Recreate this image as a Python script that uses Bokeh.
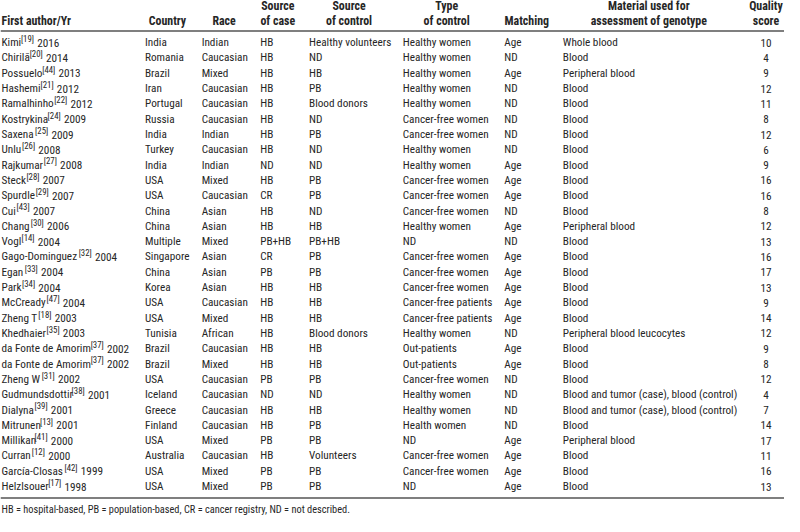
from bokeh.plotting import figure
from bokeh.models import ColumnDataSource, Range1d
from bokeh.core.properties import value
from bokeh.embed import file_html
from bokeh.resources import INLINE

# ---------------- data ----------------
authors = ["Kimi", "Chirilă", "Possuelo", "Hashemi", "Ramalhinho", "Kostrykina", "Saxena",
           "Unlu", "Rajkumar", "Steck", "Spurdle", "Cui", "Chang", "Vogl", "Gago-Dominguez",
           "Egan", "Park", "McCready", "Zheng T", "Khedhaier", "da Fonte de Amorim",
           "da Fonte de Amorim", "Zheng W", "Gudmundsdottir", "Dialyna", "Mitrunen",
           "Millikan", "Curran", "García-Closas", "Helzlsouer"]
refs = [19, 20, 44, 21, 22, 24, 25, 26, 27, 28, 29, 43, 30, 14, 32, 33, 34, 47, 18, 35,
        37, 37, 31, 38, 39, 13, 41, 12, 42, 17]
years = [2016, 2014, 2013, 2012, 2012, 2009, 2009, 2008, 2008, 2007, 2007, 2007, 2006,
         2004, 2004, 2004, 2004, 2004, 2003, 2003, 2002, 2002, 2002, 2001, 2001, 2001,
         2000, 2000, 1999, 1998]
countries = ["India", "Romania", "Brazil", "Iran", "Portugal", "Russia", "India", "Turkey",
             "India", "USA", "USA", "China", "China", "Multiple", "Singapore", "China",
             "Korea", "USA", "USA", "Tunisia", "Brazil", "Brazil", "USA", "Iceland",
             "Greece", "Finland", "USA", "Australia", "USA", "USA"]
races = ["Indian", "Caucasian", "Mixed", "Caucasian", "Caucasian", "Caucasian", "Indian",
         "Caucasian", "Indian", "Mixed", "Caucasian", "Asian", "Asian", "Mixed", "Asian",
         "Asian", "Asian", "Caucasian", "Mixed", "African", "Caucasian", "Mixed",
         "Caucasian", "Caucasian", "Caucasian", "Caucasian", "Mixed", "Caucasian",
         "Mixed", "Mixed"]
case_sources = ["HB", "HB", "HB", "HB", "HB", "HB", "HB", "HB", "ND", "HB", "CR", "HB",
                "HB", "PB+HB", "CR", "PB", "HB", "HB", "HB", "HB", "HB", "HB", "PB", "ND",
                "HB", "HB", "PB", "HB", "PB", "PB"]
control_sources = ["Healthy volunteers", "ND", "HB", "PB", "Blood donors", "ND", "PB", "ND",
                   "ND", "PB", "PB", "ND", "HB", "PB+HB", "PB", "PB", "HB", "HB", "HB",
                   "Blood donors", "HB", "HB", "PB", "ND", "HB", "PB", "PB", "Volunteers",
                   "PB", "PB"]
control_types = ["Healthy women", "Healthy women", "Healthy women", "Healthy women",
                 "Healthy women", "Cancer-free women", "Cancer-free women", "Healthy women",
                 "Healthy women", "Cancer-free women", "Cancer-free women",
                 "Cancer-free women", "Healthy women", "ND", "Cancer-free women",
                 "Cancer-free women", "Cancer-free women", "Cancer-free patients",
                 "Cancer-free patients", "Healthy women", "Out-patients", "Out-patients",
                 "Cancer-free women", "Healthy women", "Healthy women", "Health women",
                 "ND", "Cancer-free women", "Cancer-free women", "ND"]
matching = ["Age", "ND", "Age", "ND", "ND", "ND", "ND", "ND", "Age", "Age", "Age", "ND",
            "Age", "ND", "Age", "Age", "Age", "Age", "Age", "ND", "Age", "Age", "ND", "ND",
            "ND", "ND", "Age", "Age", "Age", "Age"]
materials = ["Whole blood", "Blood", "Peripheral blood", "Blood", "Blood", "Blood", "Blood",
             "Blood", "Blood", "Blood", "Blood", "Blood", "Peripheral blood", "Blood",
             "Blood", "Blood", "Blood", "Blood", "Blood", "Peripheral blood leucocytes",
             "Blood", "Blood", "Blood", "Blood and tumor (case), blood (control)",
             "Blood and tumor (case), blood (control)", "Blood", "Peripheral blood",
             "Blood", "Blood", "Blood"]
quality = [10, 4, 9, 12, 11, 8, 12, 6, 9, 16, 16, 8, 12, 13, 16, 17, 13, 9, 14, 12, 9, 8,
           12, 4, 7, 14, 17, 11, 16, 13]

header_top = ["Source", "Source", "Type", "Material used for", "Quality"]
header_bottom = ["First author/Yr", "Country", "Race", "of case", "of control",
                 "of control", "Matching", "assessment of genotype", "score"]
footnote = "HB = hospital-based, PB = population-based, CR = cancer registry, ND = not described."

# ---------------- layout (reference pixel space) ----------------
W, H = 784, 516
XR, YR = 803, 532
k = W / XR
FONT = "Roboto Condensed"
COLOR = "#262626"
BODY = 11.5
SUP = 9.0
HEAD = 12.2
FOOT = 10.6
FONT_RATIO = 0.873   # width of this font relative to Helvetica metrics

ROW0, DY = 43.5, 15.78
col_left = [148, 206, 266, 316, 412, 516, 576]
qual_center = 784
head_bottom_x = [1, 171, 229, 284, 357, 457, 539, 664, 784]
head_top_x = [284, 357, 457, 664, 784]
HEAD_Y_TOP, HEAD_Y_BOT = 5.5, 21.0
LINE_TOP, LINE_BOT = 31.5, 513
FOOT_Y = 525

HELV = {' ': 278, '-': 333, '.': 278, ',': 278, '[': 278, ']': 278, '(': 333, ')': 333,
        'ă': 556, 'í': 278}
HELV.update(dict(zip("ABCDEFGHIJKLMNOPQRSTUVWXYZ",
                     [667, 667, 722, 722, 667, 611, 778, 722, 278, 500, 667, 556, 833, 722,
                      778, 667, 778, 722, 667, 611, 722, 667, 944, 667, 667, 611])))
HELV.update(dict(zip("abcdefghijklmnopqrstuvwxyz",
                     [556, 556, 500, 556, 556, 278, 556, 556, 222, 222, 500, 222, 833, 556,
                      556, 556, 556, 333, 500, 278, 556, 500, 722, 500, 500, 500])))
for d in "0123456789":
    HELV[d] = 556


def tw(s, size):
    return sum(HELV.get(c, 556) for c in s) * FONT_RATIO * size / 1000.0


def px(size):
    return f"{size * k:.2f}px"


p = figure(width=W, height=H, output_backend="svg", toolbar_location=None,
           x_range=Range1d(0, XR), y_range=Range1d(YR, 0),
           x_axis_location=None, y_axis_location=None, min_border=0,
           outline_line_color=None, background_fill_color="white",
           border_fill_color="white")
p.grid.visible = False

n = len(authors)
ys = [ROW0 + i * DY for i in range(n)]

# author column with superscript reference numbers
sup_txt = [f"[{r}]" for r in refs]
name_x = [1.0] * n
sup_x = [1.0 + tw(a, BODY) + 0.4 for a in authors]
year_x = [sx + tw(s, SUP) + 3.6 for sx, s in zip(sup_x, sup_txt)]

common = dict(text_font=value(FONT), text_color=COLOR, text_baseline="middle")
p.text(x=name_x, y=ys, text=authors, text_font_size=px(BODY), **common)
p.text(x=sup_x, y=[y - 3.8 for y in ys], text=sup_txt, text_font_size=px(SUP), **common)
p.text(x=year_x, y=ys, text=[str(v) for v in years], text_font_size=px(BODY), **common)

for cx, col in zip(col_left, [countries, races, case_sources, control_sources,
                              control_types, matching, materials]):
    p.text(x=[cx] * n, y=ys, text=col, text_font_size=px(BODY), **common)

p.text(x=[qual_center] * n, y=ys, text=[str(q) for q in quality],
       text_font_size=px(BODY), text_align="center", **common)

# headers
hb_align = ["left"] + ["center"] * (len(header_bottom) - 1)
src = ColumnDataSource(dict(x=head_bottom_x, y=[HEAD_Y_BOT] * len(header_bottom),
                            t=header_bottom, a=hb_align))
p.text(x="x", y="y", text="t", text_align="a", source=src, text_font_size=px(HEAD),
       text_font_style="bold", **common)
p.text(x=head_top_x, y=[HEAD_Y_TOP] * len(header_top), text=header_top,
       text_align="center", text_font_size=px(HEAD), text_font_style="bold", **common)

# rules
p.segment(x0=[0, 0], x1=[XR, XR], y0=[LINE_TOP, LINE_BOT], y1=[LINE_TOP, LINE_BOT],
          line_color="#555555", line_width=1.6)

# footnote
p.text(x=[1], y=[FOOT_Y], text=[footnote], text_font_size=px(FOOT), **common)

open("out.html", "w").write(file_html(p, INLINE))
